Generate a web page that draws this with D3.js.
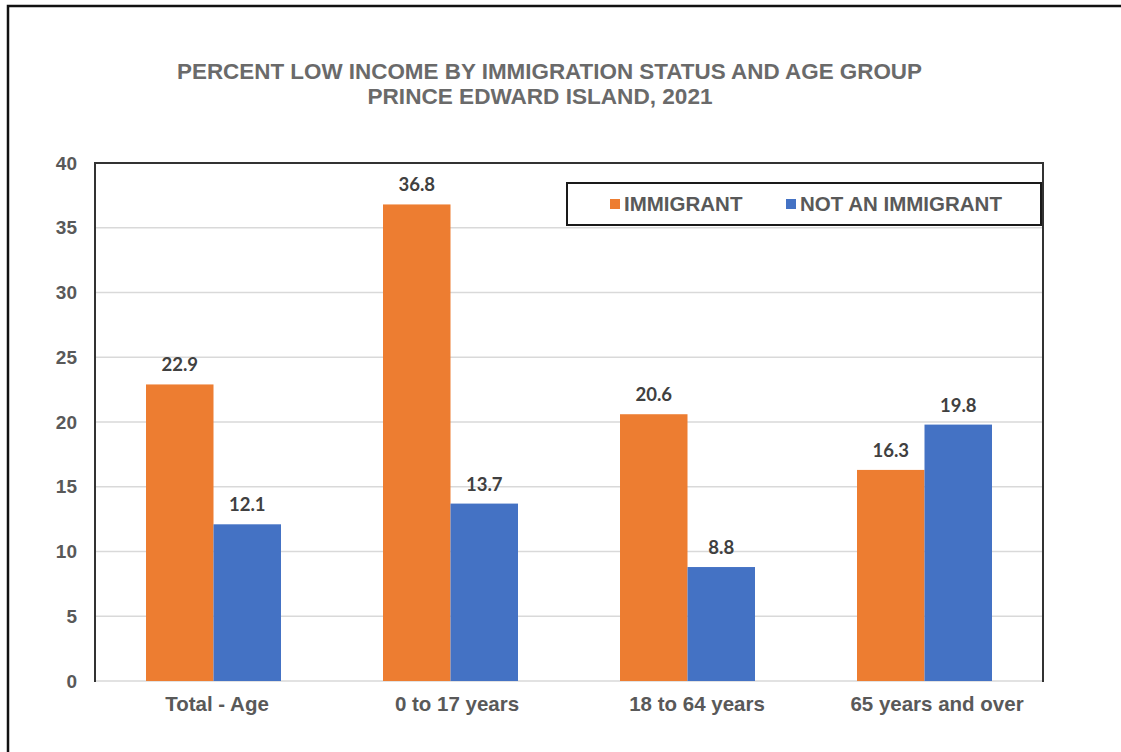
<!DOCTYPE html>
<html>
<head>
<meta charset="utf-8">
<script src="https://cdn.jsdelivr.net/npm/d3@7"></script>
<style>
  html, body { margin: 0; padding: 0; background: #fff; }
  svg { display: block; }
</style>
</head>
<body>
<svg id="chart" width="1121" height="752"></svg>
<script>
// Low-income rates (%) by age group, Prince Edward Island 2021
const categories = ["Total - Age", "0 to 17 years", "18 to 64 years", "65 years and over"];
const seriesNames = ["IMMIGRANT", "NOT AN IMMIGRANT"];
const immigrant = [22.9, 36.8, 20.6, 16.3];
const notImmigrant = [12.1, 13.7, 8.8, 19.8];
const yTicks = [0, 5, 10, 15, 20, 25, 30, 35, 40];
const titleLines = ["PERCENT  LOW INCOME BY IMMIGRATION STATUS AND AGE GROUP", "PRINCE EDWARD ISLAND, 2021"];

const colors = ["#ED7D31", "#4472C4"];
const seriesValues = [immigrant, notImmigrant];

const svg = d3.select("#chart");

// Outer frame (left and top edges)
svg.append("path")
  .attr("d", "M8,752 L8,6 L1121,6")
  .attr("fill", "none").attr("stroke", "#111").attr("stroke-width", 2.5);

// Title (condensed to fit)
const title = svg.append("g")
  .attr("font-family", "'Liberation Sans Narrow', 'Arial Narrow', 'Liberation Sans', Arial, sans-serif")
  .attr("font-weight", "bold").attr("fill", "#6a6a6a").attr("text-anchor", "middle")
  .style("white-space", "pre");
title.append("text").attr("x", 549.5).attr("y", 79).attr("font-size", 22)
  .attr("textLength", 745).attr("lengthAdjust", "spacingAndGlyphs").text(titleLines[0]);
title.append("text").attr("x", 540).attr("y", 104).attr("font-size", 22)
  .attr("textLength", 345).attr("lengthAdjust", "spacingAndGlyphs").text(titleLines[1]);

const margin = { left: 95, right: 1043, top: 163, bottom: 681 };

const x = d3.scaleBand().domain(categories).range([margin.left, margin.right]).paddingInner(0).paddingOuter(0);
// Category labels sit on a slightly wider spread than the bar groups
const xLabel = d3.scaleBand().domain(categories).range([margin.left + 2, margin.right + 14]);
const y = d3.scaleLinear().domain([0, 40]).range([margin.bottom, margin.top]);
const groupWidth = 135;
const xs = d3.scaleBand().domain(seriesNames).range([0, groupWidth]).padding(0);

// Gridlines
svg.append("g").selectAll("line").data(yTicks.filter(t => t !== 40)).join("line")
  .attr("x1", margin.left).attr("x2", margin.right)
  .attr("y1", d => y(d)).attr("y2", d => y(d))
  .attr("stroke", "#d9d9d9").attr("stroke-width", 1.5);

// Y axis tick labels
const yAxis = svg.append("g")
  .attr("transform", `translate(${margin.left},0)`)
  .call(d3.axisLeft(y).tickValues(yTicks).tickSize(0).tickPadding(18).tickFormat(d3.format("d")));
yAxis.select(".domain").remove();
yAxis.selectAll("text")
  .attr("font-family", "'Liberation Sans', Arial, sans-serif")
  .attr("font-weight", "bold").attr("font-size", 19).attr("fill", "#595959");

// Bars
const groups = svg.append("g").selectAll("g").data(categories).join("g")
  .attr("transform", d => `translate(${x(d) + (x.bandwidth() - groupWidth) / 2},0)`);

groups.each(function (cat, ci) {
  const g = d3.select(this);
  seriesNames.forEach((s, si) => {
    const v = seriesValues[si][ci];
    g.append("rect")
      .attr("x", xs(s)).attr("width", xs.bandwidth())
      .attr("y", y(v)).attr("height", y(0) - y(v))
      .attr("fill", colors[si]);
    g.append("text")
      .attr("x", xs(s) + xs.bandwidth() / 2).attr("y", y(v) - 13)
      .attr("text-anchor", "middle")
      .attr("font-family", "Lato, 'Open Sans', sans-serif")
      .attr("font-weight", "bold").attr("font-size", 18.5).attr("fill", "#404040")
      .text(d3.format(".1f")(v));
  });
});

// Category axis labels
const xAxis = svg.append("g")
  .attr("transform", `translate(0,${margin.bottom})`)
  .call(d3.axisBottom(xLabel).tickSize(0).tickPadding(15));
xAxis.select(".domain").remove();
xAxis.selectAll("text")
  .attr("font-family", "'Liberation Sans', Arial, sans-serif")
  .attr("font-weight", "bold").attr("font-size", 20.5).attr("fill", "#595959");

// Plot frame: left, top and right edges
svg.append("path")
  .attr("d", `M${margin.left},${margin.bottom + 1} L${margin.left},${margin.top} L${margin.right},${margin.top} L${margin.right},${margin.bottom + 1}`)
  .attr("fill", "none").attr("stroke", "#333").attr("stroke-width", 2);

// Legend
const legend = svg.append("g");
legend.append("rect")
  .attr("x", 567).attr("y", 183).attr("width", 474).attr("height", 42)
  .attr("fill", "#fff").attr("stroke", "#1a1a1a").attr("stroke-width", 2);
const legendX = [610, 786];
seriesNames.forEach((s, i) => {
  legend.append("rect")
    .attr("x", legendX[i]).attr("y", 199).attr("width", 10).attr("height", 10)
    .attr("fill", colors[i]);
  legend.append("text")
    .attr("x", legendX[i] + 14).attr("y", 211)
    .attr("font-family", "'Liberation Sans', Arial, sans-serif")
    .attr("font-weight", "bold").attr("font-size", 20.5).attr("fill", "#595959")
    .text(s);
});
</script>
</body>
</html>
